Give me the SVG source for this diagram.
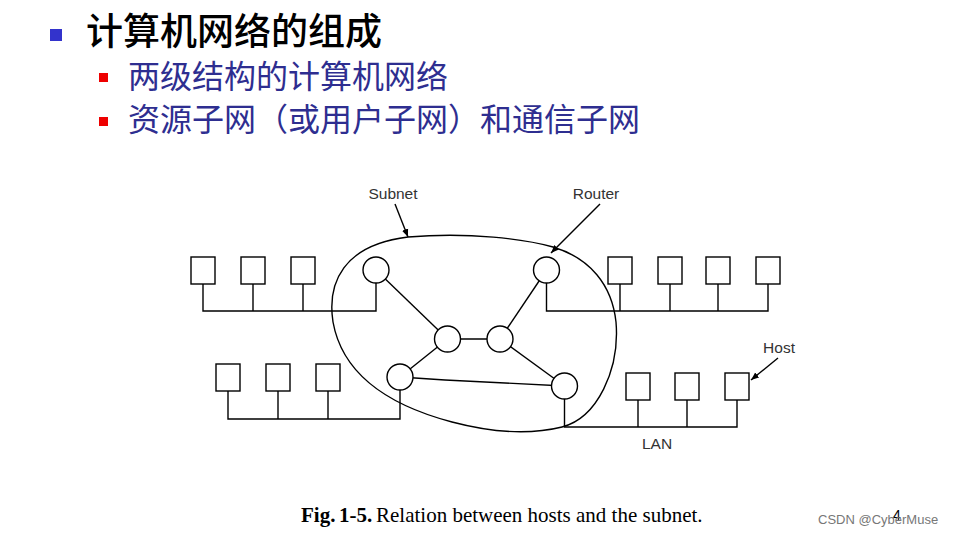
<svg xmlns="http://www.w3.org/2000/svg" width="960" height="536" viewBox="0 0 960 536">
<style>
.ln{stroke:#000;stroke-width:1.4;fill:none}
.host{fill:#fff;stroke:#000;stroke-width:1.4}
.rt{fill:#fff;stroke:#000;stroke-width:1.4}
.lbl{font-family:"Liberation Sans",Arial,sans-serif;font-size:15.5px;fill:#333}
.cjk{font-family:"Noto Sans CJK SC","Noto Sans",sans-serif}
.cap{font-family:"Liberation Serif","Times New Roman",serif;font-size:21px;fill:#000}
</style>
<defs>
<marker id="ah" viewBox="0 0 10 10" refX="10" refY="5" markerWidth="8" markerHeight="8" orient="auto" markerUnits="userSpaceOnUse">
<path d="M0,1 L10,5 L0,9 Z" fill="#000"/>
</marker>
</defs>
<rect width="960" height="536" fill="#fff"/>
<g id="title">
<rect x="50" y="29" width="12" height="12" fill="#3333cc"/>
<text x="86" y="45" class="cjk" font-size="37" font-weight="500" fill="#000">计算机网络的组成</text>
<rect x="99" y="73" width="9" height="9" fill="#ee0000"/>
<text x="128" y="88" class="cjk" font-size="32" fill="#2e2e90">两级结构的计算机网络</text>
<rect x="99" y="117" width="9" height="9" fill="#ee0000"/>
<text x="128" y="131" class="cjk" font-size="32" fill="#2e2e90">资源子网（或用户子网）和通信子网</text>
</g>
<g id="subnet">
<path class="ln" d="M408,237 C470,232 525,239 553,247 C590,258 612,285 616,322 C620,370 597,418 562,427 C530,435 490,432 452,422 C384,404 342,372 333,322 C327,283 343,245 408,237 Z"/>
</g>
<g id="connectors">
<line class="ln" x1="376" y1="270" x2="447.5" y2="339"/>
<line class="ln" x1="447.5" y1="339" x2="500" y2="339"/>
<line class="ln" x1="447.5" y1="339" x2="400" y2="377"/>
<line class="ln" x1="500" y1="339" x2="546.5" y2="270"/>
<line class="ln" x1="500" y1="339" x2="564.5" y2="386"/>
<polyline class="ln" points="400,377 445,380 564.5,386"/>
<polyline class="ln" points="203,284 203,311 376,311 376,283"/>
<line class="ln" x1="253" y1="284" x2="253" y2="311"/>
<line class="ln" x1="303" y1="284" x2="303" y2="311"/>
<polyline class="ln" points="228,391 228,419 400,419 400,390"/>
<line class="ln" x1="278" y1="391" x2="278" y2="419"/>
<line class="ln" x1="328" y1="391" x2="328" y2="419"/>
<polyline class="ln" points="546.5,283 546.5,311 768,311 768,284"/>
<line class="ln" x1="620" y1="284" x2="620" y2="311"/>
<line class="ln" x1="670" y1="284" x2="670" y2="311"/>
<line class="ln" x1="718" y1="284" x2="718" y2="311"/>
<polyline class="ln" points="564.5,399 564.5,427 737,427 737,400"/>
<line class="ln" x1="638" y1="400" x2="638" y2="427"/>
<line class="ln" x1="687" y1="400" x2="687" y2="427"/>
<line class="ln" x1="395" y1="204" x2="408" y2="237" marker-end="url(#ah)"/>
<line class="ln" x1="600" y1="204" x2="551" y2="253" marker-end="url(#ah)"/>
<line class="ln" x1="778" y1="358" x2="751" y2="380" marker-end="url(#ah)"/>
</g>
<g id="routers">
<circle id="r-tl" class="rt" cx="376" cy="270" r="13"/>
<circle id="r-ml" class="rt" cx="447.5" cy="339" r="13"/>
<circle id="r-mr" class="rt" cx="500" cy="339" r="13"/>
<circle id="r-ll" class="rt" cx="400" cy="377" r="13"/>
<circle id="r-tr" class="rt" cx="546.5" cy="270" r="13"/>
<circle id="r-br" class="rt" cx="564.5" cy="386" r="13"/>
</g>
<g id="hosts">
<rect class="host" x="191" y="257" width="24" height="27"/>
<rect class="host" x="241" y="257" width="24" height="27"/>
<rect class="host" x="291" y="257" width="24" height="27"/>
<rect class="host" x="216" y="364" width="24" height="27"/>
<rect class="host" x="266" y="364" width="24" height="27"/>
<rect class="host" x="316" y="364" width="24" height="27"/>
<rect class="host" x="608" y="257" width="24" height="27"/>
<rect class="host" x="658" y="257" width="24" height="27"/>
<rect class="host" x="706" y="257" width="24" height="27"/>
<rect class="host" x="756" y="257" width="24" height="27"/>
<rect class="host" x="626" y="373" width="24" height="27"/>
<rect class="host" x="675" y="373" width="24" height="27"/>
<rect class="host" x="725" y="373" width="24" height="27"/>
</g>
<g id="labels">
<text class="lbl" x="393" y="199" text-anchor="middle">Subnet</text>
<text class="lbl" x="596" y="199" text-anchor="middle">Router</text>
<text class="lbl" x="779" y="353" text-anchor="middle">Host</text>
<text class="lbl" x="657" y="449" text-anchor="middle">LAN</text>
</g>
<g id="caption">
<text class="cap" x="301" y="522" font-weight="bold">Fig.</text>
<text class="cap" x="339" y="522" font-weight="bold">1-5.</text>
<text class="cap" x="376" y="522">Relation between hosts and the subnet.</text>
<text x="893" y="520" font-family="Liberation Sans,Arial,sans-serif" font-size="14" fill="#000">4</text>
<text x="818" y="524" font-family="Liberation Sans,Arial,sans-serif" font-size="13" fill="#777">CSDN @CyberMuse</text>
</g>
</svg>
